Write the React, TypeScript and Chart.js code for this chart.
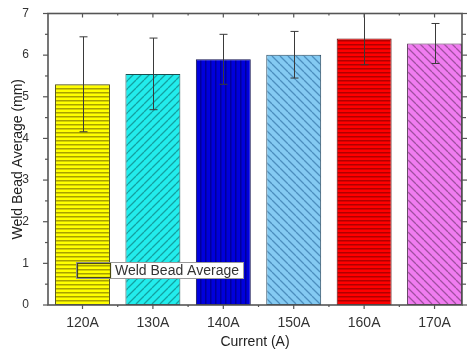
import React, { useEffect, useRef } from "react";
import { Chart, registerables } from "chart.js";

Chart.register(...registerables);

const categories = ["120A", "130A", "140A", "150A", "160A", "170A"];
const averages = [5.3, 5.55, 5.9, 6.01, 6.4, 6.28];
const errors = [1.14, 0.86, 0.6, 0.56, 0.63, 0.48];
const yTicks = [0, 1, 2, 3, 4, 5, 6, 7];
const fillColors = ["#FFFF00", "#22ECEC", "#0000DD", "#84CAF2", "#FF0000", "#F07CF0"];
const lineColors = ["#A8A000", "#14A0A0", "#00009A", "#4C8EBE", "#B00000", "#A050A0"];
const hatches = ["h", "fd", "v", "bd", "h", "bd"];
const borderColors = ["#4a4a10", "#1a5050", "#101050", "#2a4a60", "#500000", "#502850"];
const legendLabel = "Weld Bead Average";
const xTitle = "Current (A)";
const yTitle = "Weld Bead Average (mm)";

const FONT = "'Liberation Sans', Arial, sans-serif";

function makePattern(bg: string, fg: string, kind: string): CanvasPattern | string {
  const c = document.createElement("canvas");
  let w = 8, h = 8;
  if (kind === "h") { w = 4; h = 4; }
  else if (kind === "v") { w = 5; h = 4; }
  c.width = w; c.height = h;
  const g = c.getContext("2d");
  if (!g) return bg;
  g.fillStyle = bg;
  g.fillRect(0, 0, w, h);
  g.fillStyle = fg;
  g.strokeStyle = fg;
  g.lineWidth = 1.3;
  if (kind === "h") {
    g.fillRect(0, 0, w, 1.5);
  } else if (kind === "v") {
    g.fillRect(0, 0, 1.5, h);
  } else {
    g.beginPath();
    for (const k of [-w, 0, w]) {
      if (kind === "fd") { g.moveTo(k, h); g.lineTo(k + w, 0); }
      else { g.moveTo(k, 0); g.lineTo(k + w, h); }
    }
    g.stroke();
  }
  return g.createPattern(c, "repeat") || bg;
}

function line(ctx: CanvasRenderingContext2D, x1: number, y1: number, x2: number, y2: number) {
  ctx.beginPath();
  ctx.moveTo(x1, y1);
  ctx.lineTo(x2, y2);
  ctx.stroke();
}

const errorBarPlugin = {
  id: "errorBars",
  afterDatasetsDraw(chart: any) {
    const { ctx, chartArea: a, scales } = chart;
    const x = scales.x, y = scales.y;
    ctx.save();
    ctx.beginPath();
    ctx.rect(a.left, a.top, a.right - a.left, a.bottom - a.top);
    ctx.clip();
    ctx.strokeStyle = "#3a3a3a";
    ctx.lineWidth = 1;
    averages.forEach((v, i) => {
      const px = Math.round(x.getPixelForValue(i)) + 0.5;
      const pt = y.getPixelForValue(v + errors[i]);
      const pb = y.getPixelForValue(v - errors[i]);
      line(ctx, px, pt, px, pb);
      line(ctx, px - 4, pt, px + 4, pt);
      line(ctx, px - 4, pb, px + 4, pb);
    });
    ctx.restore();
  },
};

const framePlugin = {
  id: "frame",
  afterDraw(chart: any) {
    const { ctx, chartArea: a, scales } = chart;
    const x = scales.x, y = scales.y;
    ctx.save();
    ctx.strokeStyle = "#555";
    ctx.lineWidth = 1.6;
    ctx.strokeRect(a.left, a.top, a.right - a.left, a.bottom - a.top);
    ctx.lineWidth = 1.2;
    yTicks.forEach((v, i) => {
      const py = y.getPixelForValue(v);
      line(ctx, a.left - 5, py, a.left, py);
      line(ctx, a.right, py, a.right + 5, py);
      if (i < yTicks.length - 1) {
        const pm = y.getPixelForValue((v + yTicks[i + 1]) / 2);
        line(ctx, a.left - 3, pm, a.left, pm);
        line(ctx, a.right, pm, a.right + 4, pm);
      }
    });
    categories.forEach((_, i) => {
      const px = x.getPixelForValue(i);
      line(ctx, px, a.bottom, px, a.bottom + 4);
      line(ctx, px, a.top, px, a.top + 4);
      if (i < categories.length - 1) {
        const pm = x.getPixelForValue(i + 0.5);
        line(ctx, pm, a.bottom, pm, a.bottom + 2);
        line(ctx, pm, a.top, pm, a.top + 2);
      }
    });

    // legend
    ctx.font = `14px ${FONT}`;
    const tw = ctx.measureText(legendLabel).width;
    const bx = Math.round(a.left + 28), by = Math.round(a.bottom - 43), bh = 16;
    const sw = 34;
    const bw = Math.round(sw + 5 + tw + 4);
    ctx.fillStyle = "#ffffff";
    ctx.fillRect(bx, by, bw, bh);
    ctx.strokeStyle = "#9a9a9a";
    ctx.lineWidth = 1;
    ctx.strokeRect(bx + 0.5, by + 0.5, bw, bh);
    ctx.fillStyle = fillColors[0];
    ctx.fillRect(bx + 1, by + 1, sw, bh - 1);
    ctx.fillStyle = lineColors[0];
    for (let yy = by + 3; yy < by + bh - 1; yy += 4) ctx.fillRect(bx + 1, yy, sw, 1.5);
    ctx.strokeStyle = borderColors[0];
    ctx.lineWidth = 1.2;
    ctx.strokeRect(bx + 1.5, by + 1.5, sw - 1, bh - 2);
    ctx.fillStyle = "#333";
    ctx.textBaseline = "middle";
    ctx.textAlign = "left";
    ctx.fillText(legendLabel, bx + sw + 5, by + bh / 2 + 1);
    ctx.restore();
  },
};

export default function App() {
  const ref = useRef<HTMLCanvasElement | null>(null);

  useEffect(() => {
    document.body.style.margin = "0";
    const canvas = ref.current;
    if (!canvas) return;
    const patterns = fillColors.map((c, i) => makePattern(c, lineColors[i], hatches[i]));
    const chart = new Chart(canvas, {
      type: "bar",
      data: {
        datasets: [
          {
            label: legendLabel,
            data: categories.map((_, i) => ({ x: i, y: averages[i] })) as any,
            backgroundColor: patterns as any,
            borderColor: borderColors,
            borderWidth: 1,
            borderSkipped: false,
            barPercentage: 0.78,
            categoryPercentage: 1,
          },
        ],
      },
      options: {
        responsive: false,
        animation: false,
        devicePixelRatio: 1,
        layout: { padding: { top: 13.5, right: 6, left: 0, bottom: 0 } },
        plugins: { legend: { display: false }, tooltip: { enabled: false } },
        scales: {
          x: {
            type: "linear",
            min: -0.49,
            max: 5.39,
            offset: false,
            grid: { display: false },
            border: { display: false },
            afterBuildTicks: (s: any) => {
              s.ticks = categories.map((_, i) => ({ value: i }));
            },
            afterFit: (s: any) => {
              s.height = 49;
              s.paddingLeft = 0;
              s.paddingRight = 0;
            },
            ticks: {
              autoSkip: false,
              maxRotation: 0,
              padding: 2,
              color: "#333",
              font: { family: FONT, size: 14 },
              callback: (v: any) => categories[Number(v)] ?? "",
            },
            title: {
              display: true,
              text: xTitle,
              color: "#222",
              font: { family: FONT, size: 14 },
              padding: { top: 0, bottom: 3 },
            },
          } as any,
          y: {
            min: 0,
            max: 7,
            grid: { display: false },
            border: { display: false },
            afterBuildTicks: (s: any) => {
              s.ticks = yTicks.map((v) => ({ value: v }));
            },
            afterFit: (s: any) => {
              s.width = 48;
              s.paddingTop = 0;
              s.paddingBottom = 0;
            },
            ticks: {
              padding: 11,
              color: "#333",
              font: { family: FONT, size: 12 },
            },
            title: {
              display: true,
              text: yTitle,
              color: "#222",
              font: { family: FONT, size: 14 },
              padding: { top: 10, bottom: 0 },
            },
          } as any,
        },
      },
      plugins: [errorBarPlugin, framePlugin],
    });
    return () => chart.destroy();
  }, []);

  return (
    <canvas
      ref={ref}
      width={468}
      height={354}
      style={{ display: "block", width: 468, height: 354 }}
    />
  );
}
